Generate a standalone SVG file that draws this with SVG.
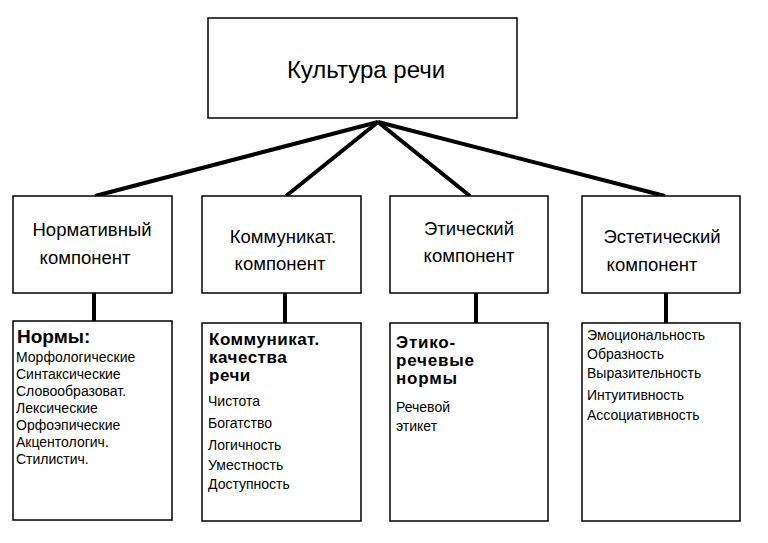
<svg xmlns="http://www.w3.org/2000/svg" width="768" height="543" viewBox="0 0 768 543">
<style>
rect{fill:#fff;stroke:#000;stroke-width:1.5}
text{font-family:"Liberation Sans",Arial,sans-serif;fill:#000}
.m{font-size:18.5px;text-anchor:middle}
.h{font-size:17px;font-weight:bold}
.s{font-size:14px}
#conn line{stroke:#000;stroke-width:4}
</style>
<rect width="768" height="543" style="stroke:none"/>
<g id="conn">
<line x1="378" y1="122" x2="95" y2="196"/>
<line x1="378" y1="122" x2="286" y2="196"/>
<line x1="378" y1="122" x2="470" y2="196"/>
<line x1="378" y1="122" x2="665" y2="196"/>
<line x1="94" y1="293" x2="94" y2="321"/>
<line x1="285" y1="293" x2="285" y2="323"/>
<line x1="476" y1="293" x2="476" y2="323"/>
<line x1="666" y1="293" x2="666" y2="323"/>
</g>
<g id="root"><rect x="208" y="18" width="309" height="100"/><text x="366" y="78" class="m" style="font-size:24px">Культура речи</text></g>
<g id="n1"><rect x="13" y="196" width="159" height="97"/><text x="92" y="236" class="m">Нормативный</text><text x="85" y="264" class="m">компонент</text></g>
<g id="n2"><rect x="202" y="196" width="159" height="97"/><text x="283" y="243" class="m">Коммуникат.</text><text x="280" y="270" class="m">компонент</text></g>
<g id="n3"><rect x="390" y="196" width="158" height="97"/><text x="469" y="235" class="m">Этический</text><text x="469" y="262" class="m">компонент</text></g>
<g id="n4"><rect x="582" y="196" width="158" height="97"/><text x="662" y="243" class="m">Эстетический</text><text x="652" y="271" class="m">компонент</text></g>
<g id="b1"><rect x="13" y="321" width="159" height="199"/>
<text x="17" y="343" class="h" style="font-size:19px">Нормы:</text>
<text class="s" x="16"><tspan x="16" y="362">Морфологические</tspan><tspan x="16" y="379">Синтаксические</tspan><tspan x="16" y="396">Словообразоват.</tspan><tspan x="16" y="413">Лексические</tspan><tspan x="16" y="430">Орфоэпические</tspan><tspan x="16" y="447">Акцентологич.</tspan><tspan x="16" y="464">Стилистич.</tspan></text></g>
<g id="b2"><rect x="202" y="323" width="159" height="198"/>
<text class="h" x="209" style="letter-spacing:0.5px"><tspan x="209" y="345">Коммуникат.</tspan><tspan x="209" y="363">качества</tspan><tspan x="209" y="381">речи</tspan></text>
<text class="s" x="208"><tspan x="208" y="406">Чистота</tspan><tspan x="208" y="428">Богатство</tspan><tspan x="208" y="450">Логичность</tspan><tspan x="208" y="470">Уместность</tspan><tspan x="208" y="489">Доступность</tspan></text></g>
<g id="b3"><rect x="390" y="323" width="158" height="198"/>
<text class="h" x="396" style="letter-spacing:0.8px"><tspan x="396" y="348">Этико-</tspan><tspan x="396" y="366">речевые</tspan><tspan x="396" y="384">нормы</tspan></text>
<text class="s" x="396"><tspan x="396" y="412">Речевой</tspan><tspan x="396" y="431">этикет</tspan></text></g>
<g id="b4"><rect x="582" y="323" width="158" height="198"/>
<text class="s" x="587"><tspan x="587" y="340">Эмоциональность</tspan><tspan x="587" y="359">Образность</tspan><tspan x="587" y="378">Выразительность</tspan><tspan x="587" y="400">Интуитивность</tspan><tspan x="587" y="420">Ассоциативность</tspan></text></g>
</svg>
